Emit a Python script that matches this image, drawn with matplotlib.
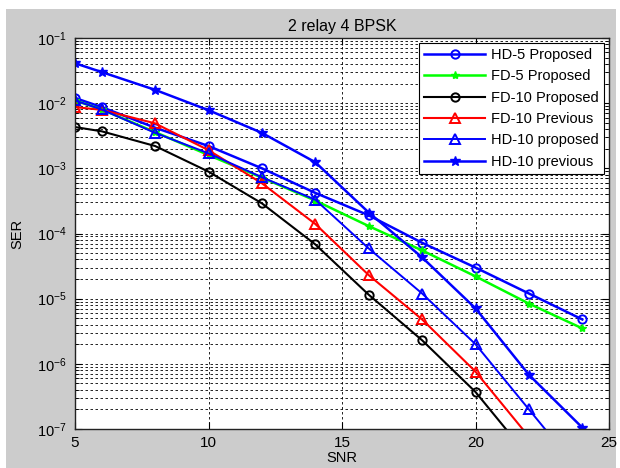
import matplotlib
matplotlib.use('Agg')
import matplotlib.pyplot as plt
from matplotlib.patches import Rectangle
from matplotlib.ticker import FixedLocator, NullFormatter

plt.rcParams['font.family'] = ['Liberation Sans', 'DejaVu Sans']
plt.rcParams['mathtext.fontset'] = 'custom'
plt.rcParams['mathtext.rm'] = 'Liberation Sans'
plt.rcParams['mathtext.it'] = 'Liberation Sans'

snr = [5, 6, 8, 10, 12, 14, 16, 18, 20, 22, 24]

hd5_prop = [1.2e-2, 8.7e-3, 4.2e-3, 2.2e-3, 1.0e-3, 4.2e-4, 1.9e-4, 7.2e-5, 3.0e-5, 1.2e-5, 4.8e-6]
fd5_prop = [1.1e-2, 8.0e-3, 3.6e-3, 1.6e-3, 7.2e-4, 3.2e-4, 1.3e-4, 5.5e-5, 2.2e-5, 8.4e-6, 3.5e-6]
fd10_prop = [4.3e-3, 3.7e-3, 2.2e-3, 8.9e-4, 2.9e-4, 6.8e-5, 1.15e-5, 2.3e-6, 3.7e-7, 3.7e-8, 4e-9]
fd10_prev = [8.7e-3, 7.9e-3, 4.9e-3, 1.9e-3, 5.9e-4, 1.4e-4, 2.3e-5, 4.8e-6, 7.6e-7, 7.6e-8, 8e-9]
hd10_prop = [1.1e-2, 8.0e-3, 3.5e-3, 1.7e-3, 7.3e-4, 3.3e-4, 5.9e-5, 1.2e-5, 2.0e-6, 2.0e-7, 2e-8]
hd10_prev = [4.1e-2, 3.0e-2, 1.6e-2, 7.8e-3, 3.5e-3, 1.24e-3, 2.1e-4, 4.3e-5, 7.1e-6, 6.8e-7, 1.05e-7]

x_ticks = [5, 10, 15, 20, 25]
y_decades = [-7, -6, -5, -4, -3, -2, -1]

fig = plt.figure(figsize=(6.2, 4.68), dpi=100, facecolor='white')
# grey MATLAB figure background
fig.patches.append(Rectangle((6 / 620, 0), 610 / 620, 1 - 9 / 468, transform=fig.transFigure,
                             facecolor='#cccccc', edgecolor='none', zorder=-10))

ax = fig.add_axes([75 / 620, 1 - 429 / 468, 534 / 620, 391 / 468])
ax.set_facecolor('white')

ax.semilogy(snr, hd5_prop, '-o', color='#0000ff', lw=1.8, ms=6, mfc='none', mew=1.4, label='HD-5 Proposed')
ax.semilogy(snr, fd5_prop, '-*', color='#00ff00', lw=1.8, ms=6, label='FD-5 Proposed')
ax.semilogy(snr, fd10_prop, '-o', color='black', lw=1.5, ms=6, mfc='none', mew=1.4, label='FD-10 Proposed')
ax.semilogy(snr, fd10_prev, '-^', color='#ff0000', lw=1.5, ms=7, mfc='none', mew=1.4, label='FD-10 Previous')
ax.semilogy(snr, hd10_prop, '-^', color='#0000ff', lw=1.4, ms=7, mfc='none', mew=1.4, label='HD-10 proposed')
ax.semilogy(snr, hd10_prev, '-*', color='#0000ff', lw=1.8, ms=7, label='HD-10 previous')

ax.set_xlim(5, 25)
ax.set_ylim(1e-7, 1e-1)
ax.xaxis.set_major_locator(FixedLocator(x_ticks))
ax.yaxis.set_major_locator(FixedLocator([10.0 ** d for d in y_decades]))
ax.set_yticklabels([r'$10^{%d}$' % d for d in y_decades])
minor = [m * 10.0 ** d for d in y_decades[:-1] for m in range(2, 10)]
ax.yaxis.set_minor_locator(FixedLocator(minor))
ax.yaxis.set_minor_formatter(NullFormatter())

ax.grid(True, which='major', axis='x', color='black', linestyle=(0, (3, 3)), lw=0.6)
ax.grid(True, which='both', axis='y', color='black', linestyle=(0, (3, 3)), lw=0.6)

ax.tick_params(which='both', direction='in', top=True, right=True)
ax.tick_params(axis='x', labelsize=11, pad=5)
ax.tick_params(axis='y', labelsize=10.5, pad=6)
ax.tick_params(which='major', length=5)
ax.tick_params(which='minor', length=3)
for s in ax.spines.values():
    s.set_linewidth(1.0)
    s.set_color('#222222')

ax.set_title('2 relay 4 BPSK', fontsize=11.5, pad=5)
ax.set_xlabel('SNR', fontsize=10.5, labelpad=1)
ax.set_ylabel('SER', fontsize=10.5, labelpad=9)

leg = ax.legend(loc='upper right', fontsize=10.5, frameon=True, fancybox=False, edgecolor='black',
                framealpha=1, handlelength=4.2, borderpad=0.35, labelspacing=0.5,
                handletextpad=0.4, borderaxespad=0.35)
leg.get_frame().set_linewidth(0.8)

fig.savefig('out.png', dpi=100, facecolor=fig.get_facecolor())
